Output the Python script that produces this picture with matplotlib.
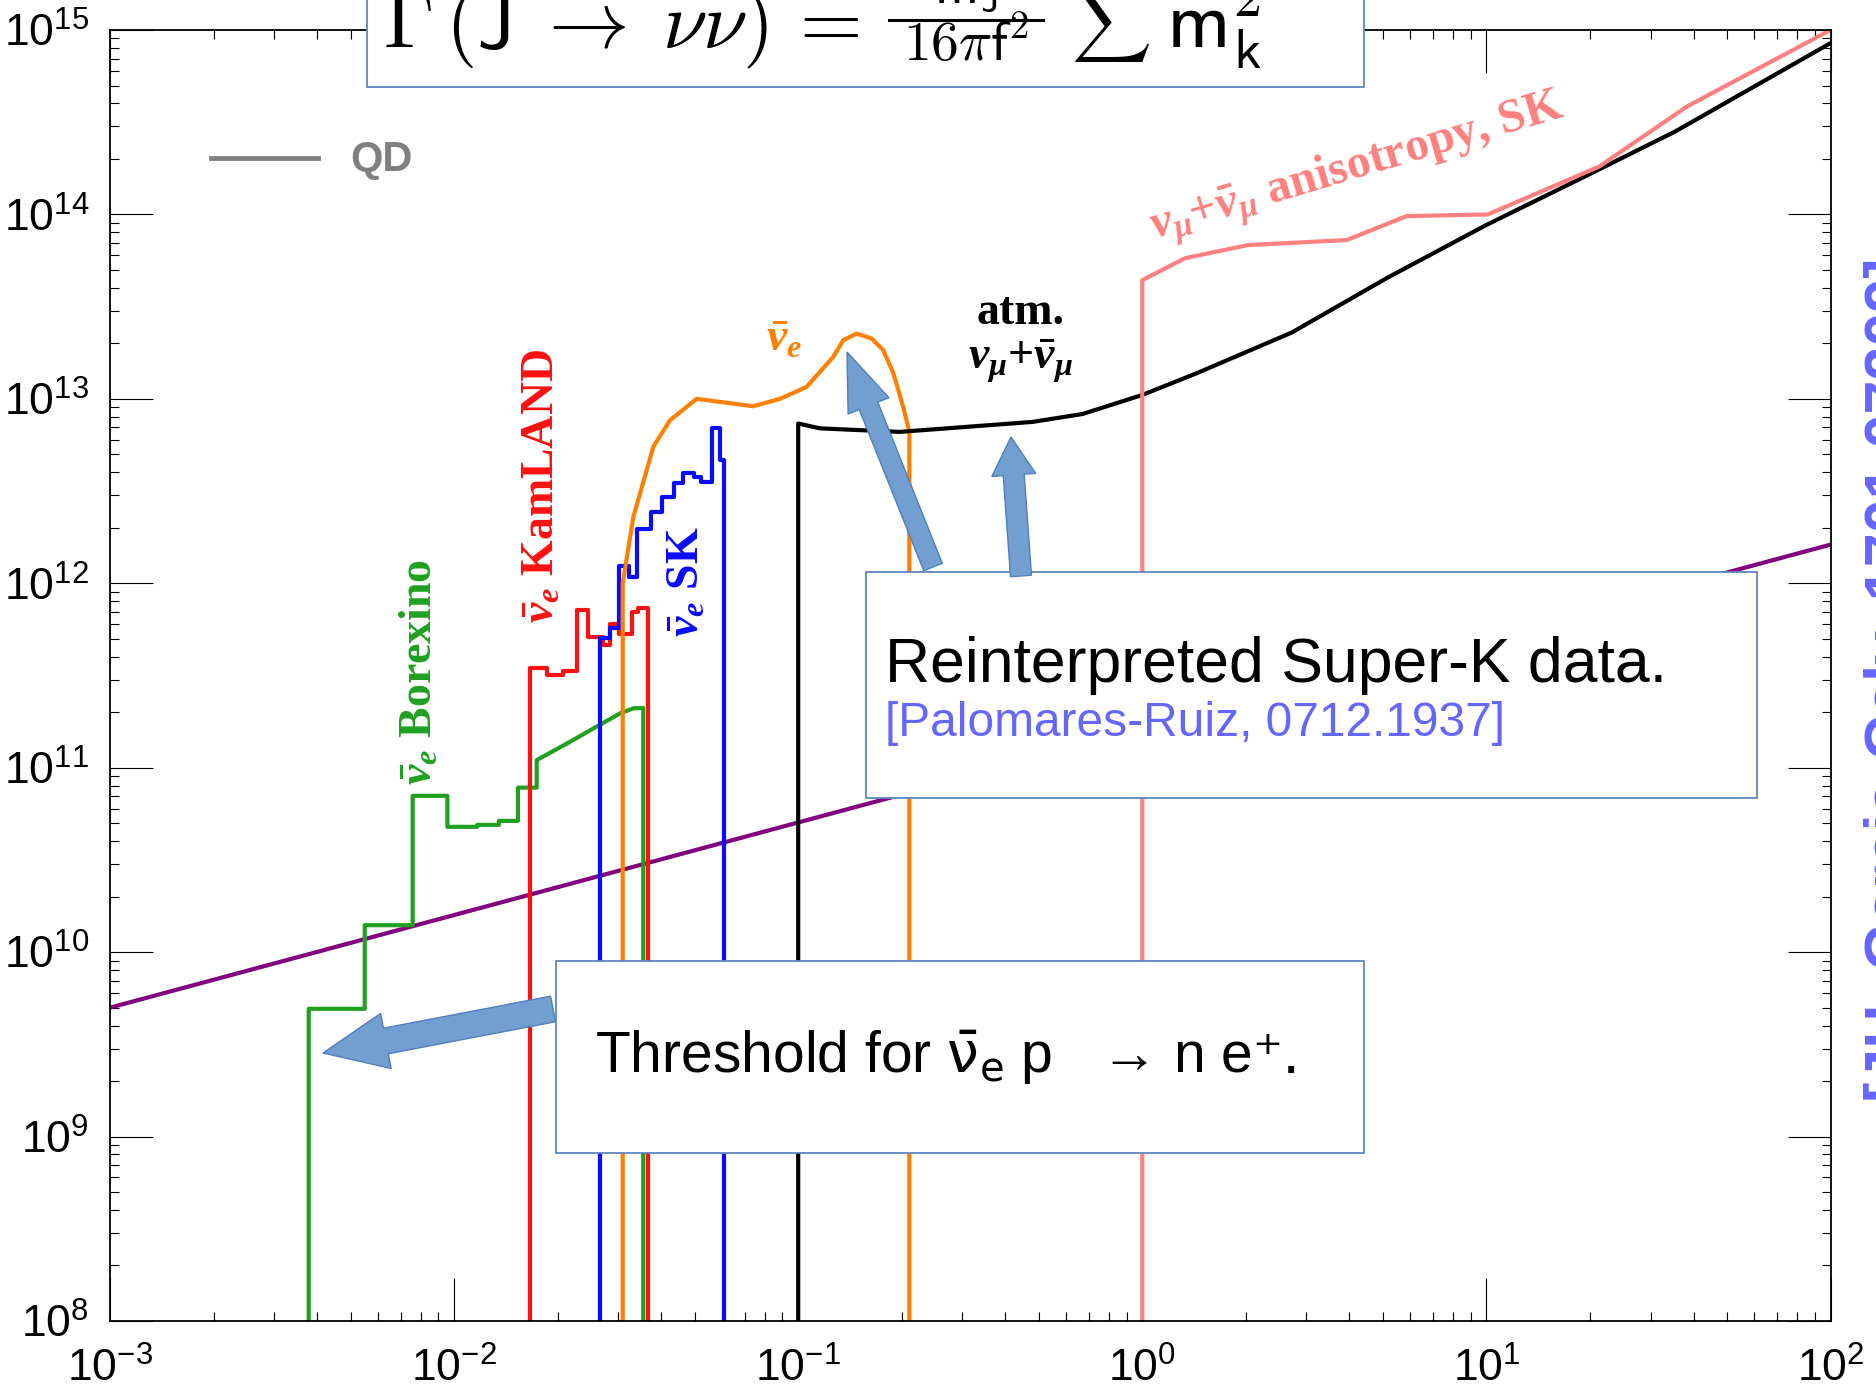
import matplotlib
matplotlib.use("Agg")
import matplotlib.pyplot as plt
import matplotlib.transforms as mtransforms
from matplotlib.patches import Rectangle, FancyArrow
from matplotlib.lines import Line2D
from matplotlib.ticker import LogLocator, NullFormatter

plt.rcParams['font.family'] = ['Liberation Sans', 'DejaVu Sans']
plt.rcParams['axes.unicode_minus'] = False
plt.rcParams['mathtext.fontset'] = 'custom'
plt.rcParams['mathtext.rm'] = 'Liberation Serif:bold'
plt.rcParams['mathtext.it'] = 'Liberation Serif:italic:bold'
plt.rcParams['mathtext.bf'] = 'Liberation Serif:bold'

# --- limits (mass in GeV on x, lifetime-like quantity on y) ---
FLOOR = 1e8

# Borexino anti-nu_e : histogram part, then smooth tail
borex_edges = [0.00378, 0.00550, 0.00758, 0.00956, 0.01168, 0.01349, 0.01533, 0.01738]
borex_levels = [4.93e9, 1.40e10, 7.04e10, 4.78e10, 4.90e10, 5.15e10, 7.80e10]
borex_tail_x = [0.01738, 0.02124, 0.02595, 0.03034, 0.03319, 0.03546]
borex_tail_y = [1.10e11, 1.35e11, 1.67e11, 1.97e11, 2.10e11, 2.11e11]

# KamLAND anti-nu_e
kam_edges = [0.01661, 0.01857, 0.02067, 0.02270, 0.02454, 0.02701, 0.02838,
             0.03021, 0.03281, 0.03431, 0.03666]
kam_levels = [3.49e11, 3.17e11, 3.35e11, 7.15e11, 5.13e11, 4.62e11, 6.05e11,
              5.34e11, 7.00e11, 7.39e11]

# Super-K anti-nu_e
sk_edges = [0.02654, 0.02838, 0.03021, 0.03229, 0.03393, 0.03724, 0.04022,
            0.04370, 0.04622, 0.04994, 0.05215, 0.05607, 0.05928, 0.06100]
sk_levels = [5.08e11, 5.69e11, 1.24e12, 1.08e12, 1.96e12, 2.44e12, 2.94e12,
             3.48e12, 3.98e12, 3.78e12, 3.56e12, 6.92e12, 4.65e12]

# reinterpreted Super-K anti-nu_e
nue_x = [0.0309, 0.0309, 0.03319, 0.03793, 0.04246, 0.05070, 0.07396, 0.08851,
         0.10568, 0.12647, 0.13521, 0.14791, 0.16368, 0.17660, 0.18923,
         0.20184, 0.21038, 0.21038]
nue_y = [FLOOR, 1.0e12, 2.29e12, 5.50e12, 7.67e12, 1.00e13, 9.12e12, 1.00e13,
         1.16e13, 1.69e13, 2.08e13, 2.26e13, 2.12e13, 1.84e13, 1.37e13,
         9.06e12, 6.62e12, FLOOR]

# atmospheric nu_mu + anti-nu_mu
atm_x = [0.1, 0.1, 0.1156, 0.197, 0.480, 0.671, 1.0, 1.435, 2.72, 5.16, 10.0,
         18.6, 35.3, 100.0]
atm_y = [FLOOR, 7.35e12, 6.92e12, 6.62e12, 7.50e12, 8.28e12, 1.05e13,
         1.374e13, 2.29e13, 4.54e13, 8.77e13, 1.55e14, 2.81e14, 8.49e14]

# nu_mu + anti-nu_mu anisotropy, SK
aniso_x = [1.0, 1.0, 1.331, 2.028, 3.926, 5.86, 10.1, 21.3, 38.3, 100.0]
aniso_y = [FLOOR, 4.4e13, 5.79e13, 6.82e13, 7.26e13, 9.79e13, 1.0e14,
           1.82e14, 3.85e14, 1.0e15]

# QD reference line
qd_x = [1e-3, 1e2]
qd_y = [5.0e9, 1.62e12]


def step_outline(edges, levels, close=True):
    xs, ys = [edges[0]], [FLOOR]
    for i, lv in enumerate(levels):
        xs += [edges[i], edges[i + 1]]
        ys += [lv, lv]
    if close:
        xs.append(edges[-1])
        ys.append(FLOOR)
    return xs, ys


W, H = 1876, 1390
fig = plt.figure(figsize=(W / 100, H / 100), dpi=100)
ax = fig.add_axes([110 / W, 1 - 1321 / H, (1830.5 - 110) / W, (1321 - 30) / H])
# pixel coordinates measured from the top-left corner
pix = mtransforms.Affine2D().scale(1 / W, -1 / H).translate(0, 1) + fig.transFigure

green = '#1fa01f'
red = '#ff1010'
blue = '#0a0aff'
orange = '#ff8000'
pink = '#ff8080'
purple = '#800080'
lw = 3.0

ax.plot(qd_x, qd_y, color=purple, lw=lw)

gx, gy = step_outline(borex_edges, borex_levels, close=False)
gx += borex_tail_x + [borex_tail_x[-1]]
gy += borex_tail_y + [FLOOR]
ax.plot(gx, gy, color=green, lw=lw)

kx, ky = step_outline(kam_edges, kam_levels)
ax.plot(kx, ky, color=red, lw=lw)

sx, sy = step_outline(sk_edges, sk_levels)
ax.plot(sx, sy, color=blue, lw=lw)

ax.plot(nue_x, nue_y, color=orange, lw=lw)
ax.plot(atm_x, atm_y, color='black', lw=lw)
ax.plot(aniso_x, aniso_y, color=pink, lw=lw)

ax.set_xscale('log')
ax.set_yscale('log')
ax.set_xlim(1e-3, 1e2)
ax.set_ylim(1e8, 1e15)
for a in (ax.xaxis, ax.yaxis):
    a.set_major_locator(LogLocator(base=10, numticks=20))
    a.set_minor_locator(LogLocator(base=10, subs=range(2, 10), numticks=200))
    a.set_minor_formatter(NullFormatter())
ax.tick_params(which='both', direction='in', top=True, right=True, width=0.8)
ax.tick_params(which='major', length=31, labelsize=32)
ax.tick_params(which='minor', length=6.5)
ax.tick_params(axis='y', pad=15)
ax.tick_params(axis='x', pad=19)
for sp in ax.spines.values():
    sp.set_linewidth(1.3)

# curve labels
serif = dict(family='Liberation Serif', weight='bold', transform=pix,
             ha='center', va='center', fontsize=33)
fig.text(421, 672, r'$\bar{\nu}_e$ Borexino', color=green, rotation=90, **serif)
fig.text(543, 486, r'$\bar{\nu}_e$ KamLAND', color=red, rotation=90, **serif)
fig.text(688, 582, r'$\bar{\nu}_e$ SK', color=blue, rotation=90, **serif)
fig.text(784, 341, r'$\bar{\nu}_e$', color=orange, **serif)
fig.text(1020, 313, 'atm.', color='black', **serif)
fig.text(1020, 361, r'$\nu_{\mu}{+}\bar{\nu}_{\mu}$', color='black', **serif)
serif['fontsize'] = 34.5
fig.text(1357, 168, r'$\nu_{\mu}{+}\bar{\nu}_{\mu}$ anisotropy, SK', color=pink,
         rotation=16.6, **serif)

# legend entry
fig.add_artist(Line2D([211, 318], [158, 158], transform=pix, color='#808080', lw=3.5))
fig.text(350, 160, 'QD', transform=pix, color='#808080', fontsize=30,
         weight='bold', va='center', ha='left')

# boxes
box_kw = dict(transform=pix, facecolor='white', edgecolor='#5f86c0', lw=1.3, zorder=4)
fig.add_artist(Rectangle((367, -10), 997, 97, **box_kw))
fig.add_artist(Rectangle((866, 572), 891, 226, **box_kw))
fig.add_artist(Rectangle((556, 961), 808, 192, **box_kw))

# decay width formula, set piece by piece (top part runs off the page)
eq = dict(transform=pix, math_fontfamily='cm', va='baseline', zorder=5)
fig.text(383, 48, r'$\Gamma\,(\mathsf{J}\;\rightarrow\;\nu\nu)\,=$', fontsize=58,
         ha='left', **eq)
fig.text(966, 2, r'$\mathsf{m_J}$', fontsize=40, ha='center', **eq)
fig.add_artist(Line2D([889, 1043], [20, 20], transform=pix, color='black',
                      lw=2.2, zorder=5))
fig.text(966, 61, r'$16\pi\mathsf{f}^2$', fontsize=40, ha='center', **eq)
fig.text(1071, 41, r'$\sum$', fontsize=40, ha='left', **eq)
fig.text(1166, 48, r'$\mathsf{m}_\mathsf{k}^2$', fontsize=58, ha='left', **eq)

fig.text(885, 682, 'Reinterpreted Super-K data.', transform=pix, fontsize=45,
         va='baseline', zorder=5)
fig.text(885, 736, '[Palomares-Ruiz, 0712.1937]', transform=pix, fontsize=34.5,
         color='#6666ff', va='baseline', zorder=5)
t_thr = fig.text(595, 1073, 'Threshold for $\\bar{\\mathrm{\\nu}}_\\mathrm{e}$ p   \u2192 n e',
                 transform=pix, math_fontfamily='dejavusans', fontsize=41,
                 va='baseline', zorder=5)
# small superscript plus after the positron, in a font that has the glyph
bb = t_thr.get_window_extent(fig.canvas.get_renderer())
fig.text(bb.x1 + 1, H - 1073, '\u207a.', transform=mtransforms.IdentityTransform(),
         family='DejaVu Sans', fontsize=41, va='baseline', zorder=5)

# arrows
arr_kw = dict(transform=pix, facecolor='#729fcf', edgecolor='#4f7fbf', lw=1,
              length_includes_head=True, zorder=6)
fig.add_artist(FancyArrow(553, 1009, 323 - 553, 1053 - 1009, width=26,
                          head_width=56, head_length=64, **arr_kw))
fig.add_artist(FancyArrow(933, 567, 847 - 933, 352 - 567, width=20,
                          head_width=44, head_length=58, **arr_kw))
fig.add_artist(FancyArrow(1021, 576, 1011 - 1021, 437 - 576, width=21,
                          head_width=44, head_length=38, **arr_kw))

# citation running along the right edge
fig.text(1908 / W, 1 - 680 / H, '[JH, Garcia-Cely, 1701.07209]', color='#6666ff',
         fontsize=44, weight='bold', rotation=90, rotation_mode='anchor',
         ha='center', va='baseline')

fig.savefig('out.png', dpi=100)
